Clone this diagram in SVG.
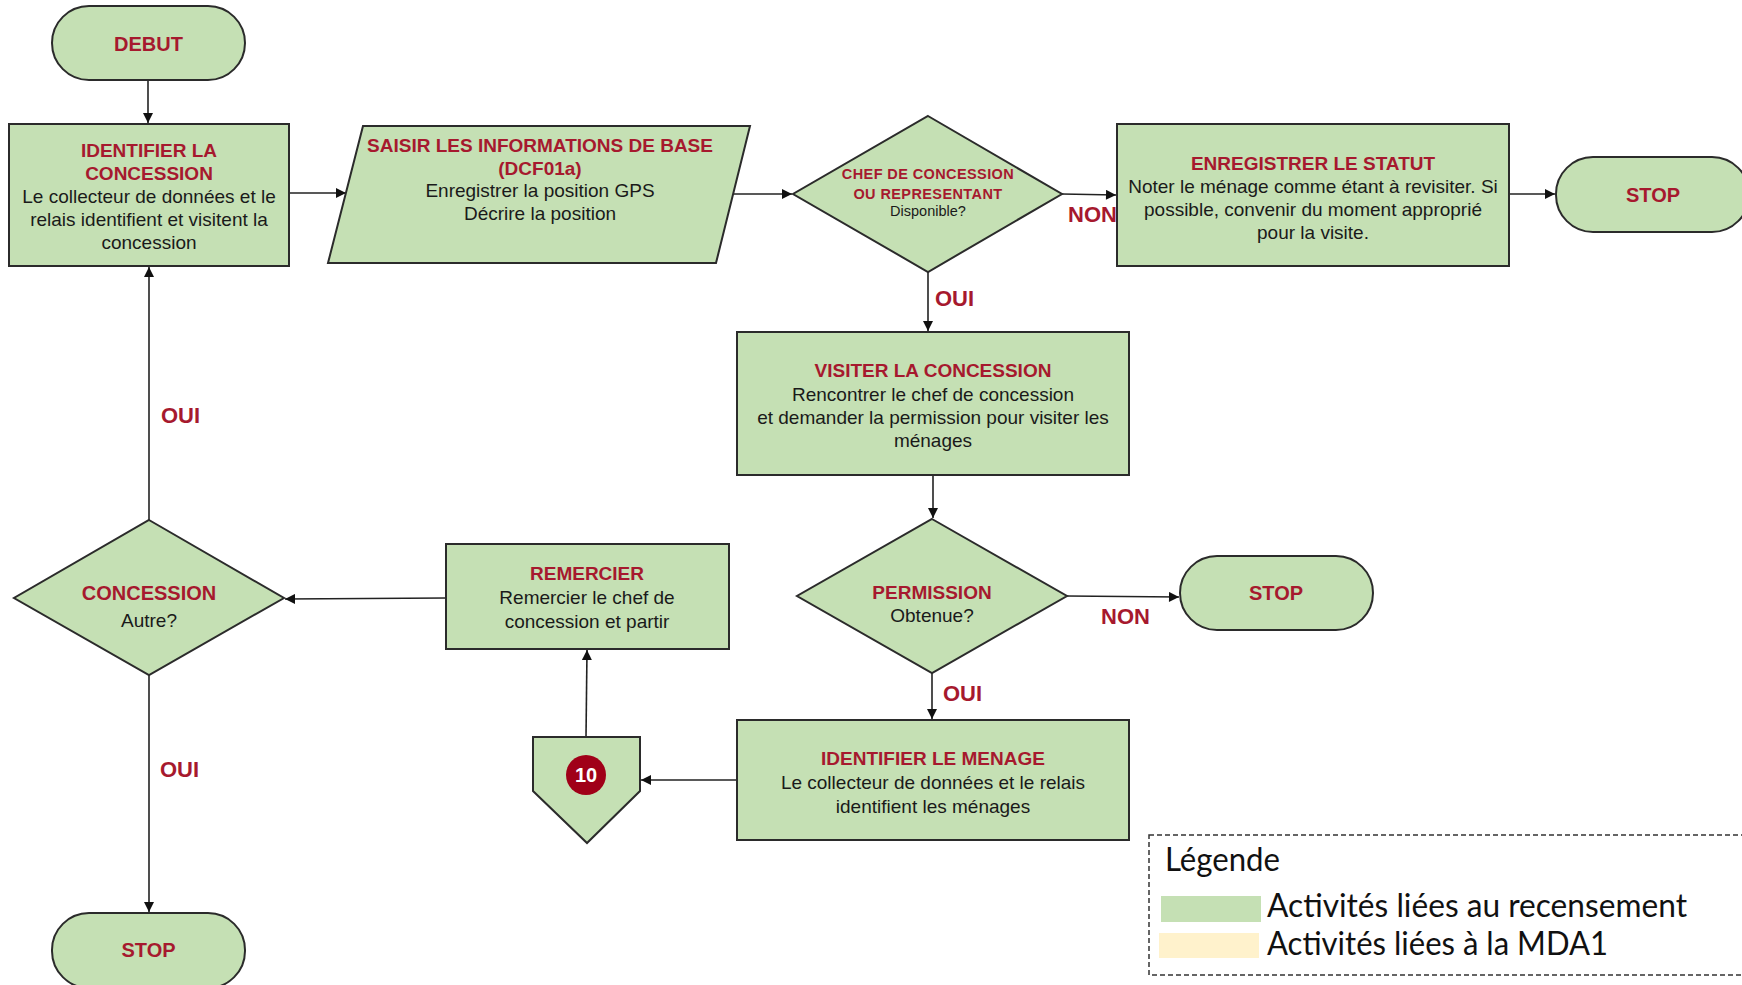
<svg xmlns="http://www.w3.org/2000/svg" width="1742" height="985" viewBox="0 0 1742 985">
<defs>
<marker id="arr" viewBox="0 0 10 10" refX="10" refY="5" markerWidth="11" markerHeight="10" markerUnits="userSpaceOnUse" orient="auto">
<path d="M0,0 L10,5 L0,10 z" fill="#111"/>
</marker>
<style>
.n{fill:#C5E0B4;stroke:#2b2b2b;stroke-width:2}
.c{fill:none;stroke:#222;stroke-width:1.6;marker-end:url(#arr)}
.t{font-family:"Liberation Sans",Arial,sans-serif;font-size:19px;font-weight:bold;fill:#A6192E;text-anchor:middle}
.b{font-family:"Liberation Sans",Arial,sans-serif;font-size:19px;fill:#1a1a1a;text-anchor:middle}
.l{font-family:"Liberation Sans",Arial,sans-serif;font-size:22px;font-weight:bold;fill:#A6192E}
.lg{font-family:Lato,"Open Sans",sans-serif;font-size:32px;fill:#111}
</style>
</defs>
<rect width="1742" height="985" fill="#fff"/>

<g id="connectors">
<line class="c" x1="148" y1="80" x2="148" y2="123"/>
<line class="c" x1="289" y1="193" x2="346" y2="193"/>
<line class="c" x1="733" y1="194" x2="792" y2="194"/>
<line class="c" x1="1062" y1="194" x2="1116" y2="195"/>
<line class="c" x1="1509" y1="194" x2="1555" y2="194"/>
<line class="c" x1="928" y1="272" x2="928" y2="331"/>
<line class="c" x1="933" y1="475" x2="933" y2="518"/>
<line class="c" x1="1067" y1="596" x2="1179" y2="597"/>
<line class="c" x1="932" y1="673" x2="932" y2="719"/>
<line class="c" x1="736" y1="780" x2="641" y2="780"/>
<line class="c" x1="586" y1="737" x2="587" y2="650"/>
<line class="c" x1="446" y1="598" x2="285" y2="599"/>
<line class="c" x1="149" y1="520" x2="149" y2="267"/>
<line class="c" x1="149" y1="675" x2="149" y2="912"/>
<text class="l" x="1068" y="222">NON</text>
<text class="l" x="935" y="306">OUI</text>
<text class="l" x="1101" y="624">NON</text>
<text class="l" x="943" y="701">OUI</text>
<text class="l" x="161" y="423">OUI</text>
<text class="l" x="160" y="777">OUI</text>
</g>

<g id="debut">
<rect class="n" x="52" y="6" width="193" height="74" rx="37"/>
<text class="t" x="148.5" y="51" style="font-size:20px">DEBUT</text>
</g>

<g id="identifier-concession">
<rect class="n" x="9" y="124" width="280" height="142"/>
<text class="t" x="149" y="157">IDENTIFIER LA</text>
<text class="t" x="149" y="180">CONCESSION</text>
<text class="b" x="149" y="203">Le collecteur de données et le</text>
<text class="b" x="149" y="226">relais identifient et visitent la</text>
<text class="b" x="149" y="249">concession</text>
</g>

<g id="saisir">
<polygon class="n" points="363,126 750,126 716,263 328,263"/>
<text class="t" x="540" y="152">SAISIR LES INFORMATIONS DE BASE</text>
<text class="t" x="540" y="175">(DCF01a)</text>
<text class="b" x="540" y="197">Enregistrer la position GPS</text>
<text class="b" x="540" y="220">Décrire la position</text>
</g>

<g id="chef">
<polygon class="n" points="928,116 1062,194 928,272 793,194"/>
<text class="t" x="928" y="179" style="font-size:14.5px;letter-spacing:0.4px">CHEF DE CONCESSION</text>
<text class="t" x="928" y="199" style="font-size:14.5px;letter-spacing:0.4px">OU REPRESENTANT</text>
<text class="b" x="928" y="216" style="font-size:14.5px">Disponible?</text>
</g>

<g id="enregistrer">
<rect class="n" x="1117" y="124" width="392" height="142"/>
<text class="t" x="1313" y="170">ENREGISTRER LE STATUT</text>
<text class="b" x="1313" y="193">Noter le ménage comme étant à revisiter. Si</text>
<text class="b" x="1313" y="216">possible, convenir du moment approprié</text>
<text class="b" x="1313" y="239">pour la visite.</text>
</g>

<g id="stop1">
<rect class="n" x="1556" y="157" width="193" height="75" rx="37"/>
<text class="t" x="1653" y="202" style="font-size:20px">STOP</text>
</g>

<g id="visiter">
<rect class="n" x="737" y="332" width="392" height="143"/>
<text class="t" x="933" y="377">VISITER LA CONCESSION</text>
<text class="b" x="933" y="401">Rencontrer le chef de concession</text>
<text class="b" x="933" y="424">et demander la permission pour visiter les</text>
<text class="b" x="933" y="447">ménages</text>
</g>

<g id="permission">
<polygon class="n" points="932,519 1067,596 932,673 797,596"/>
<text class="t" x="932" y="599">PERMISSION</text>
<text class="b" x="932" y="622">Obtenue?</text>
</g>

<g id="stop2">
<rect class="n" x="1180" y="556" width="193" height="74" rx="37"/>
<text class="t" x="1276" y="600" style="font-size:20px">STOP</text>
</g>

<g id="identifier-menage">
<rect class="n" x="737" y="720" width="392" height="120"/>
<text class="t" x="933" y="765">IDENTIFIER LE MENAGE</text>
<text class="b" x="933" y="789">Le collecteur de données et le relais</text>
<text class="b" x="933" y="813">identifient les ménages</text>
</g>

<g id="connecteur-10">
<polygon class="n" points="533,737 640,737 640,791 587,843 533,791"/>
<circle cx="586" cy="775" r="20" fill="#A00018"/>
<text x="586" y="782" style="font-family:'Liberation Sans',Arial,sans-serif;font-size:20px;font-weight:bold;fill:#fff;text-anchor:middle">10</text>
</g>

<g id="remercier">
<rect class="n" x="446" y="544" width="283" height="105"/>
<text class="t" x="587" y="580">REMERCIER</text>
<text class="b" x="587" y="604">Remercier le chef de</text>
<text class="b" x="587" y="628">concession et partir</text>
</g>

<g id="concession-autre">
<polygon class="n" points="149,520 284,598 149,675 14,598"/>
<text class="t" x="149" y="600" style="font-size:20px">CONCESSION</text>
<text class="b" x="149" y="627">Autre?</text>
</g>

<g id="stop3">
<rect class="n" x="52" y="913" width="193" height="75" rx="37"/>
<text class="t" x="148.5" y="957" style="font-size:20px">STOP</text>
</g>

<g id="legende">
<rect x="1149" y="835" width="610" height="140" fill="none" stroke="#333" stroke-width="1.5" stroke-dasharray="5,3"/>
<text class="lg" x="1165" y="871" textLength="115" lengthAdjust="spacingAndGlyphs">Légende</text>
<rect x="1161" y="896" width="100" height="26" fill="#C5E0B4"/>
<text class="lg" x="1267" y="917" textLength="420" lengthAdjust="spacingAndGlyphs">Activités liées au recensement</text>
<rect x="1159" y="933" width="100" height="25" fill="#FFF2CC"/>
<text class="lg" x="1267" y="955" textLength="341" lengthAdjust="spacingAndGlyphs">Activités liées à la MDA1</text>
</g>
</svg>
